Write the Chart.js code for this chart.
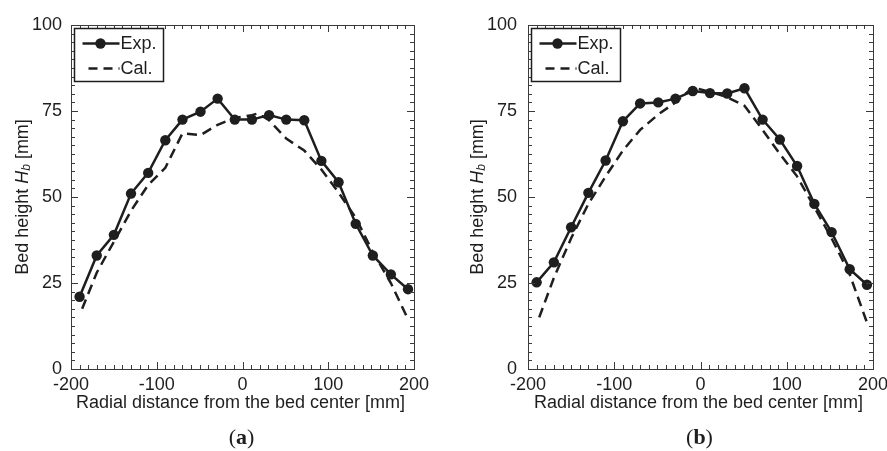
<!DOCTYPE html>
<html>
<head>
<meta charset="utf-8">
<script src="https://cdn.jsdelivr.net/npm/chart.js@4.4.0/dist/chart.umd.min.js"></script>
<style>
    html, body { margin: 0; padding: 0; background: #fff; overflow: hidden; }
    .panel { position: absolute; top: 0; height: 451px; width: 443px; }
    #panelA { left: 0; }
    #panelB { left: 444px; }
</style>
</head>
<body>
<div class="panel" id="panelA"><canvas id="chartA"></canvas></div>
<div class="panel" id="panelB"><canvas id="chartB"></canvas></div>
<script>
// Umumiy o'qlar
const xTicks = [-200, -100, 0, 100, 200];
const yTicks = [0, 25, 50, 75, 100];
const xTitle = 'Radial distance from the bed center [mm]';
const legendLabels = ['Exp.', 'Cal.'];

// (a) panel
const expRadiusA = [-190, -170, -150, -130, -110, -90, -70, -49, -29, -9, 11, 31, 51, 72, 92, 112, 132, 152, 173, 193];
const expHeightA = [21, 33, 39, 51, 57, 66.5, 72.5, 74.8, 78.6, 72.5, 72.5, 73.8, 72.5, 72.3, 60.5, 54.3, 42.2, 33, 27.5, 23.2];
const calRadiusA = [-187, -170, -150, -130, -110, -90, -70, -49, -29, -9, 11, 18, 31, 51, 72, 92, 112, 132, 152, 173, 193];
const calHeightA = [17.5, 28, 37, 46, 53.5, 58.5, 68.5, 68, 71, 73, 73.8, 74.3, 72.3, 67, 63.5, 58, 51.3, 44, 34, 25, 14.5];

// (b) panel
const expRadiusB = [-190, -170, -150, -130, -110, -90, -70, -49, -29, -9, 11, 31, 51, 72, 92, 112, 132, 152, 173, 193];
const expHeightB = [25.2, 31, 41.2, 51.2, 60.6, 72, 77.2, 77.5, 78.6, 80.8, 80.2, 80.1, 81.6, 72.5, 66.7, 59, 48, 39.8, 29, 24.5];
const calRadiusB = [-187, -170, -150, -130, -110, -90, -70, -49, -29, -9, 11, 31, 51, 72, 92, 112, 132, 152, 173, 193];
const calHeightB = [15, 26.5, 38, 48, 56, 63.5, 69.5, 74, 77.5, 81.8, 80.6, 79, 76.5, 69.5, 62.5, 56, 47, 38, 27.5, 13.5];

const ink = '#1e1e1e';
const sans = "'Liberation Sans', Arial, sans-serif";

function toPoints(xs, ys) {
    return xs.map((x, i) => ({ x: x, y: ys[i] }));
}

// Ramka, ichki chiziqchalar, sarlavhalar va legenda
const decorPlugin = {
    id: 'decor',
    afterDraw(chart, args, opts) {
        const ctx = chart.ctx;
        const ca = chart.chartArea;
        const xs = chart.scales.x;
        const ys = chart.scales.y;
        ctx.save();

        // ramka
        ctx.strokeStyle = '#3a3a3a';
        ctx.lineWidth = 1;
        ctx.strokeRect(Math.round(ca.left) + 0.5, Math.round(ca.top) + 0.5,
            Math.round(ca.right - ca.left), Math.round(ca.bottom - ca.top));

        // x chiziqchalar
        ctx.beginPath();
        for (let v = -200; v <= 200; v += 10) {
            const px = Math.round(xs.getPixelForValue(v)) + 0.5;
            const len = v % 100 === 0 ? 7 : 4;
            ctx.moveTo(px, ca.bottom); ctx.lineTo(px, ca.bottom - len);
            ctx.moveTo(px, ca.top); ctx.lineTo(px, ca.top + len);
        }
        // y chiziqchalar
        for (let v = 0; v <= 100; v += 2.5) {
            const py = Math.round(ys.getPixelForValue(v)) + 0.5;
            const len = v % 25 === 0 ? 7 : 4;
            ctx.moveTo(ca.left, py); ctx.lineTo(ca.left + len, py);
            ctx.moveTo(ca.right, py); ctx.lineTo(ca.right - len, py);
        }
        ctx.stroke();

        ctx.fillStyle = ink;

        // x sarlavha
        const cx = (ca.left + ca.right) / 2;
        ctx.font = '18px ' + sans;
        ctx.textAlign = 'center';
        ctx.textBaseline = 'middle';
        ctx.fillText(xTitle, cx - 2, 403);

        // panel belgisi (a) / (b)
        ctx.font = "22px 'Liberation Serif', serif";
        const wp = ctx.measureText('(').width;
        const wq = ctx.measureText(')').width;
        ctx.font = "bold 22px 'Liberation Serif', serif";
        const wl = ctx.measureText(opts.panel).width;
        let px = cx - 1 - (wp + wl + wq) / 2;
        ctx.textAlign = 'left';
        ctx.textBaseline = 'alphabetic';
        ctx.font = "22px 'Liberation Serif', serif";
        ctx.fillText('(', px, 444);
        ctx.font = "bold 22px 'Liberation Serif', serif";
        ctx.fillText(opts.panel, px + wp, 444);
        ctx.font = "22px 'Liberation Serif', serif";
        ctx.fillText(')', px + wp + wl, 444);

        // y sarlavha: Bed height H_b [mm]
        const parts = [
            { t: 'Bed height ', f: '18px ' + sans, dy: 0 },
            { t: 'H', f: 'italic 18px ' + sans, dy: 0 },
            { t: 'b', f: 'italic 12px ' + sans, dy: 4 },
            { t: ' [mm]', f: '18px ' + sans, dy: 0 }
        ];
        let total = 0;
        parts.forEach(p => { ctx.font = p.f; p.w = ctx.measureText(p.t).width; total += p.w; });
        ctx.translate(opts.yTitleX, (ca.top + ca.bottom) / 2);
        ctx.rotate(-Math.PI / 2);
        ctx.textBaseline = 'middle';
        let tx = -total / 2;
        parts.forEach(p => {
            ctx.font = p.f;
            ctx.fillText(p.t, tx, p.dy);
            tx += p.w;
        });
        ctx.setTransform(1, 0, 0, 1, 0, 0);

        // legenda
        const lx = Math.round(ca.left) + 3.5, ly = Math.round(ca.top) + 3.5;
        ctx.fillStyle = '#fff';
        ctx.fillRect(lx, ly, 89, 53);
        ctx.strokeStyle = ink;
        ctx.lineWidth = 1.5;
        ctx.strokeRect(lx, ly, 89, 53);

        const sets = chart.data.datasets;
        ctx.lineWidth = 2.5;
        ctx.beginPath();
        ctx.moveTo(lx + 8, ly + 15); ctx.lineTo(lx + 45, ly + 15);
        ctx.stroke();
        ctx.fillStyle = ink;
        ctx.beginPath();
        ctx.arc(lx + 26, ly + 15, 5.2, 0, Math.PI * 2);
        ctx.fill();

        ctx.setLineDash([9, 6]);
        ctx.beginPath();
        ctx.moveTo(lx + 14, ly + 40); ctx.lineTo(lx + 45, ly + 40);
        ctx.stroke();
        ctx.setLineDash([]);

        ctx.font = '18px ' + sans;
        ctx.textAlign = 'left';
        ctx.textBaseline = 'middle';
        ctx.fillText(sets[0].label, lx + 46, ly + 16);
        ctx.fillText(sets[1].label, lx + 46, ly + 41);

        ctx.restore();
    }
};

function makeChart(canvasId, expX, expY, calX, calY, cfg) {
    const ctx = document.getElementById(canvasId);
    return new Chart(ctx, {
        type: 'scatter',
        data: {
            datasets: [{
                label: legendLabels[0],
                data: toPoints(expX, expY),
                showLine: true,
                borderColor: ink,
                backgroundColor: ink,
                borderWidth: 2.5,
                pointRadius: 5.2,
                pointBorderWidth: 0,
                tension: 0
            }, {
                label: legendLabels[1],
                data: toPoints(calX, calY),
                showLine: true,
                borderColor: ink,
                borderWidth: 2.5,
                borderDash: [10, 6],
                pointRadius: 0,
                tension: 0
            }]
        },
        options: {
            responsive: true,
            maintainAspectRatio: false,
            animation: false,
            layout: {
                padding: { top: 25, right: cfg.padRight, left: 0, bottom: 0 }
            },
            plugins: {
                legend: { display: false },
                tooltip: { enabled: false },
                decor: { panel: cfg.panel, yTitleX: cfg.yTitleX }
            },
            scales: {
                x: {
                    type: 'linear',
                    min: -200,
                    max: 200,
                    grid: { display: false, drawTicks: false },
                    border: { display: false },
                    afterBuildTicks: s => { s.ticks = xTicks.map(v => ({ value: v })); },
                    afterFit: s => { s.height = 82; s.paddingLeft = 0; s.paddingRight = 0; },
                    ticks: {
                        color: ink,
                        font: { family: sans, size: 18 },
                        padding: 5,
                        maxRotation: 0,
                        autoSkip: false
                    }
                },
                y: {
                    type: 'linear',
                    min: 0,
                    max: 100,
                    grid: { display: false, drawTicks: false },
                    border: { display: false },
                    afterBuildTicks: s => { s.ticks = yTicks.map(v => ({ value: v })); },
                    afterFit: s => { s.width = cfg.yWidth; s.paddingTop = 0; s.paddingBottom = 0; },
                    ticks: {
                        color: ink,
                        font: { family: sans, size: 18 },
                        padding: cfg.tickPad
                    }
                }
            }
        },
        plugins: [decorPlugin]
    });
}

makeChart('chartA', expRadiusA, expHeightA, calRadiusA, calHeightA,
    { panel: 'a', yWidth: 71, padRight: 29, tickPad: 9, yTitleX: 23 });
makeChart('chartB', expRadiusB, expHeightB, calRadiusB, calHeightB,
    { panel: 'b', yWidth: 84, padRight: 14, tickPad: 11, yTitleX: 34 });
</script>
</body>
</html>
